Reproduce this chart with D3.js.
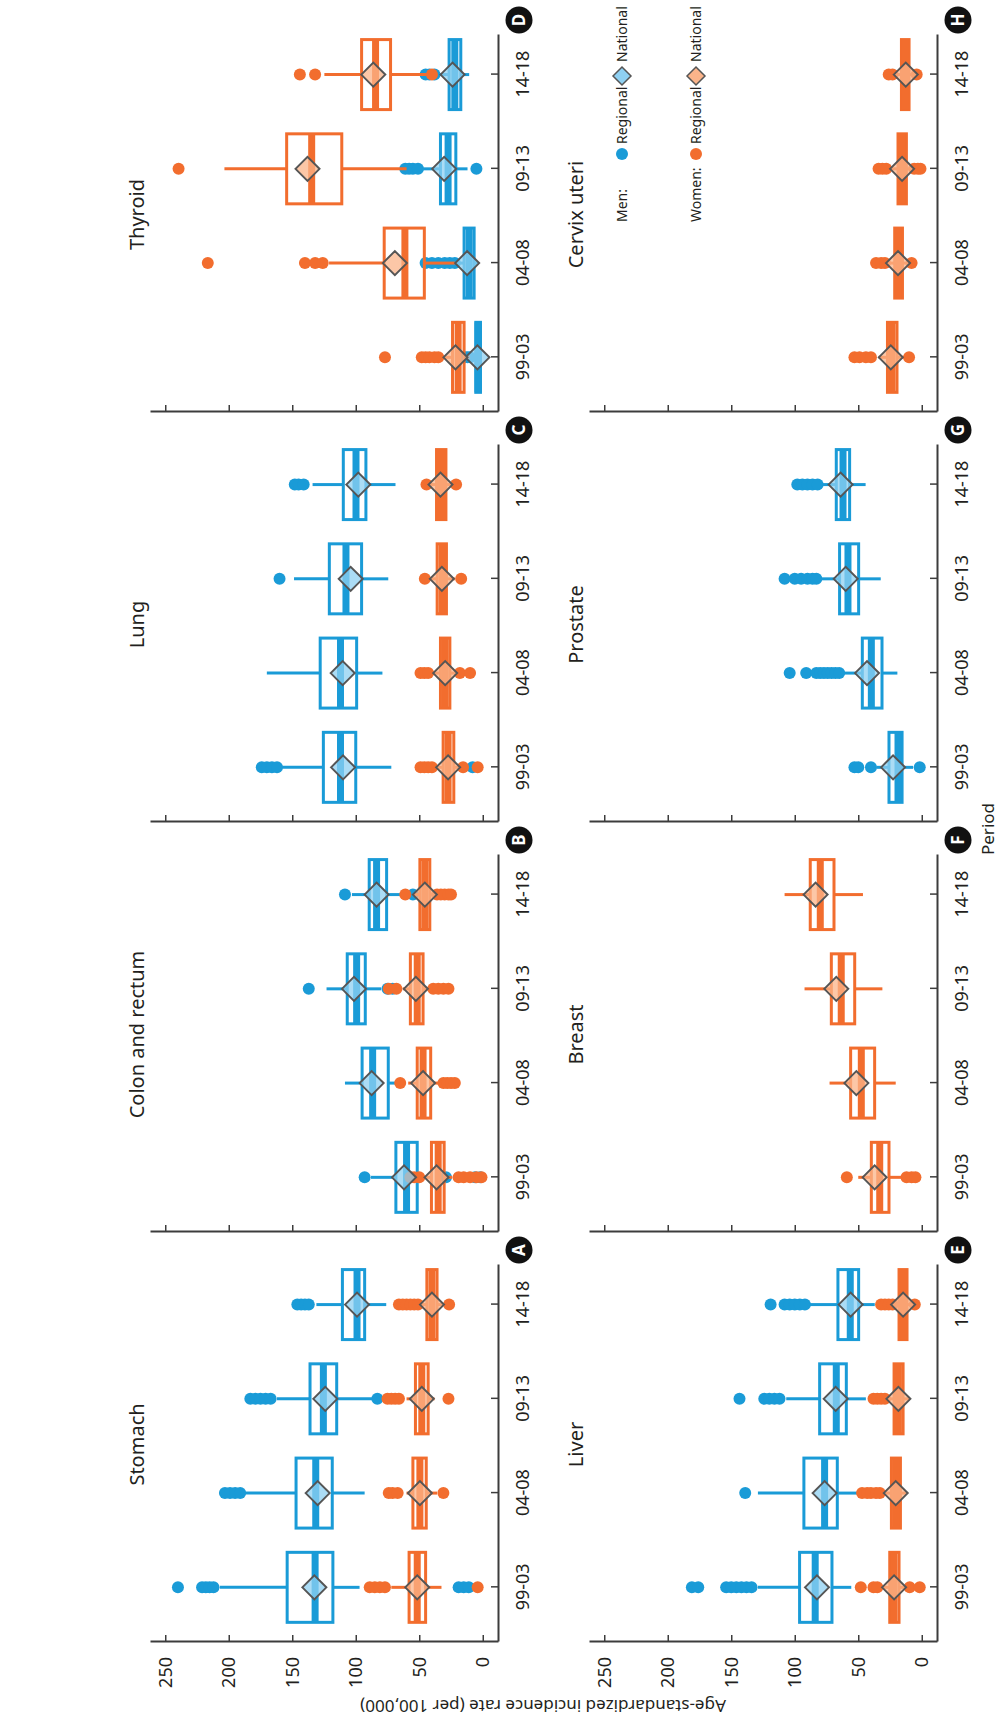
<!DOCTYPE html>
<html>
<head>
<meta charset="utf-8">
<script src="https://cdn.jsdelivr.net/npm/d3@7"></script>
<style>
  body { margin: 0; background: #fff; }
  svg text { font-family: "Noto Sans", "DejaVu Sans", sans-serif; fill: #231f20; }
</style>
</head>
<body>
<svg id="chart" width="1002" height="1722"></svg>
<script>
// ---- data ----
const periods = ["99-03", "04-08", "09-13", "14-18"];
const panelNames = ["Stomach", "Colon and rectum", "Lung", "Thyroid", "Liver", "Breast", "Prostate", "Cervix uteri"];
const panelLetters = ["A", "B", "C", "D", "E", "F", "G", "H"];
const valueTicks = [0, 50, 100, 150, 200, 250];

// box rows: [whisker low, Q1, median, Q3, whisker high], one row per period
const stomachMenBox = [[97, 118, 132, 154, 207], [93, 118.5, 131.5, 147, 187], [87, 115, 125.5, 136, 162], [76, 93, 99, 110.5, 131]];
const stomachMenNat = [132.6, 130, 124, 99];
const stomachMenOut = [[240, 221, 218, 215, 212, 19, 15, 11], [203, 199, 195, 191], [183, 179, 175, 171, 167, 83], [146, 143, 140, 137]];
const stomachWomenBox = [[32.5, 45, 51.6, 58, 72], [36, 44.5, 49.5, 55, 60], [38, 43, 48, 53, 60], [30, 36, 40, 44, 48]];
const stomachWomenNat = [51.6, 49.5, 48, 40];
const stomachWomenOut = [[89, 85, 81, 77, 4], [74, 71, 67, 31], [75, 72, 69, 66, 27], [66, 63, 60, 57, 54, 51, 26.5]];

const colonMenBox = [[47, 51.6, 60, 68.4, 88], [68, 74.4, 86.7, 95, 108.5], [80, 92.5, 99.3, 106.7, 123], [65, 75.7, 83.6, 89.4, 103]];
const colonMenNat = [62, 87.5, 101.4, 83.6];
const colonMenOut = [[93, 29, 6, 2], [], [137, 75, 71], [108.5, 55]];
const colonWomenBox = [[24, 30.4, 35.1, 40.4, 46], [34, 41, 47, 51.6, 58.7], [42, 47, 51.6, 57, 63], [38, 41.7, 45.6, 49.5, 55]];
const colonWomenNat = [36.4, 47, 52.7, 45.6];
const colonWomenOut = [[57, 54, 50, 19, 15, 10, 5, 1], [65, 31, 28, 25, 22], [74, 68, 39, 35, 31, 27], [61, 36, 33, 30, 27, 25]];

const lungMenBox = [[72, 100, 112, 125.5, 158], [79, 99.3, 112, 128, 170], [74.4, 95.4, 107.7, 120.8, 148.6], [68.7, 92, 99.8, 109.8, 134]];
const lungMenNat = [110, 110.3, 104, 98];
const lungMenOut = [[174, 170, 166, 162, 8], [], [160], [148, 145, 141]];
const lungWomenBox = [[18, 22.8, 27.3, 31.2, 36], [20, 25.9, 29.6, 33.3, 40], [22, 28.6, 32, 35.9, 42], [24, 29, 32.5, 36.4, 41]];
const lungWomenNat = [27.3, 29.6, 32.2, 33.3];
const lungWomenOut = [[49, 46, 43, 40, 15.5, 4], [49, 46, 43, 18, 10], [45.6, 17], [44.3, 21]];

const thyroidMenBox = [[1, 1.8, 3.7, 5.5, 8], [3.7, 6.8, 10.7, 14.7, 20], [12, 21.2, 27.3, 33.3, 47], [10.7, 17.3, 22, 26.5, 35]];
const thyroidMenNat = [4.2, 12.3, 30.4, 23.8];
const thyroidMenOut = [[14, 12, 10], [45, 40, 35, 30, 26, 22], [61, 58, 55, 51, 5], [45, 42, 38]];
const thyroidWomenBox = [[10, 14.7, 19.4, 23.8, 30], [22, 46, 61.3, 77.6, 121], [60, 111, 134.7, 154.4, 203.4], [44.3, 72.6, 84.4, 95.4, 124.7]];
const thyroidWomenNat = [21.5, 69.2, 138, 86.2];
const thyroidWomenOut = [[77, 48, 45, 42, 38, 35], [216.5, 140, 132, 126], [239.5], [144, 132, 40]];

const liverMenBox = [[55.5, 70.7, 83.9, 96.2, 129], [47.6, 66.5, 76.5, 92.8, 129], [44, 59.4, 67.3, 80.4, 106.7], [37, 49.7, 56.3, 66, 89.6]];
const liverMenNat = [82.5, 76.5, 67.8, 56];
const liverMenOut = [[181, 176, 154, 150, 146, 142, 138, 134], [139], [143.5, 124, 120, 116, 112], [119, 108, 104, 100, 96, 92]];
const liverWomenBox = [[12, 17.9, 21.8, 25.2, 30], [12, 16.8, 20.5, 23.9, 30], [10, 14.7, 18.4, 21.8, 26], [8, 11.6, 14.7, 17.9, 21]];
const liverWomenNat = [21.8, 20.5, 18.4, 14.7];
const liverWomenOut = [[48, 38, 35, 9.5, 1.6], [47, 43, 40, 36, 33], [38, 35, 32, 29], [32, 29, 26, 23, 5.5]];

const breastWomenBox = [[14, 25.8, 33.1, 39.7, 50], [20.5, 37.1, 47.6, 56, 72.6], [31, 52.8, 63.4, 71.2, 92.3], [46.3, 69.1, 79.9, 87.8, 108]];
const breastWomenNat = [37.1, 51.5, 67.3, 83.6];
const breastWomenOut = [[59, 12, 8, 5], [], [], []];

const prostateMenBox = [[6.8, 15.5, 18.7, 25.8, 35.8], [19.2, 31.3, 39.7, 46.8, 63.4], [32.3, 49.7, 58.1, 64.7, 81.8], [44.2, 56.8, 62, 67.3, 79]];
const prostateMenNat = [22.6, 43.1, 59.9, 63.9];
const prostateMenOut = [[53, 50, 40, 1.6], [104, 91, 83, 80, 77, 74, 71, 68, 65], [108, 100, 95, 90, 86, 83], [98, 94, 90, 86, 82]];

const cervixWomenBox = [[14, 19.5, 23.4, 27, 34], [11, 15.2, 18.4, 21.3, 27], [8, 12.1, 15.5, 18.7, 24], [7, 10, 12.9, 16, 21]];
const cervixWomenNat = [24.4, 18.7, 15.5, 12.6];
const cervixWomenOut = [[53, 49, 44, 40, 10], [36, 32, 29, 8], [34, 31, 28, 6, 3, 1], [26, 23, 4]];

const legendRows = ["Men:", "Women:"];
const legendItems = ["Regional", "National"];

// ---- build panels from the arrays ----
function series(box, nat, out) { return {box: box, nat: nat, out: out}; }
const panels = [
  {men: series(stomachMenBox, stomachMenNat, stomachMenOut), women: series(stomachWomenBox, stomachWomenNat, stomachWomenOut)},
  {men: series(colonMenBox, colonMenNat, colonMenOut), women: series(colonWomenBox, colonWomenNat, colonWomenOut)},
  {men: series(lungMenBox, lungMenNat, lungMenOut), women: series(lungWomenBox, lungWomenNat, lungWomenOut)},
  {men: series(thyroidMenBox, thyroidMenNat, thyroidMenOut), women: series(thyroidWomenBox, thyroidWomenNat, thyroidWomenOut)},
  {men: series(liverMenBox, liverMenNat, liverMenOut), women: series(liverWomenBox, liverWomenNat, liverWomenOut)},
  {men: null, women: series(breastWomenBox, breastWomenNat, breastWomenOut)},
  {men: series(prostateMenBox, prostateMenNat, prostateMenOut), women: null},
  {men: null, women: series(cervixWomenBox, cervixWomenNat, cervixWomenOut)}
];
panels.forEach((p, i) => { p.name = panelNames[i]; p.letter = panelLetters[i]; });

const colors = {
  men: {line: "#1a9bd7", nat: "#8fd0f2"},
  women: {line: "#f26d2e", nat: "#fbb48a"}
};
const axisColor = "#3c3c3c";

// the figure is laid out landscape (1722 x 1002) and turned a quarter to the left
const svg = d3.select("#chart");
const fig = svg.append("g").attr("transform", "translate(0,1722) rotate(-90)");

const panelW = 377, panelStep = 410, boxHalf = 35;

panels.forEach((p, i) => {
  const col = i % 4, row = Math.floor(i / 4);
  const x0 = 80 + panelStep * col;
  const yBottom = row === 0 ? 498 : 937;
  const yTop = yBottom - 348;

  const x = d3.scaleLinear().domain([0.42, 4.42]).range([x0, x0 + panelW]);
  const y = d3.scaleLinear().domain([-12, 262]).range([yBottom, yTop]);

  const g = fig.append("g");

  // value axis
  const yAxis = d3.axisLeft(y).tickValues(valueTicks).tickSizeInner(-7).tickSizeOuter(0).tickPadding(15);
  if (col !== 0) yAxis.tickFormat("");
  const ya = g.append("g").attr("transform", `translate(${x0},0)`).call(yAxis);

  // period axis
  const xAxis = d3.axisBottom(x).tickValues([1, 2, 3, 4]).tickFormat(d => periods[d - 1])
    .tickSizeInner(-7).tickSizeOuter(0).tickPadding(18);
  const xa = g.append("g").attr("transform", `translate(0,${yBottom})`).call(xAxis);

  [ya, xa].forEach(a => {
    a.attr("font-family", null).attr("font-size", null);
    a.select(".domain").attr("stroke", axisColor).attr("stroke-width", 2);
    a.selectAll(".tick line").attr("stroke", axisColor).attr("stroke-width", 1.5);
    a.selectAll(".tick text").style("font-size", "18px").attr("fill", "#231f20");
  });

  // title + panel letter
  g.append("text").attr("x", x0 + panelW / 2 + 9).attr("y", yTop - 6)
    .attr("text-anchor", "middle").style("font-size", "20px").text(p.name);
  const lg = g.append("g").attr("transform", `translate(${x0 + 392},${yBottom + 21})`);
  lg.append("circle").attr("r", 13.5).attr("fill", "#111");
  lg.append("text").attr("text-anchor", "middle").attr("dy", "0.36em")
    .style("font-size", "17px").style("font-weight", "bold").style("fill", "#fff").text(p.letter);

  // boxes: men first, women on top
  const sexes = ["men", "women"].filter(s => p[s]);
  sexes.forEach(s => {
    const d = p[s], c = colors[s].line;
    const bg = g.append("g");
    d.box.forEach((b, k) => {
      const cx = x(k + 1);
      const [lo, q1, med, q3, hi] = b;
      bg.append("line").attr("x1", cx).attr("x2", cx).attr("y1", y(q3)).attr("y2", y(hi))
        .attr("stroke", c).attr("stroke-width", 3);
      bg.append("line").attr("x1", cx).attr("x2", cx).attr("y1", y(q1)).attr("y2", y(lo))
        .attr("stroke", c).attr("stroke-width", 3);
      bg.append("rect").attr("x", cx - boxHalf).attr("width", boxHalf * 2)
        .attr("y", y(q3)).attr("height", y(q1) - y(q3))
        .attr("fill", "none").attr("stroke", c).attr("stroke-width", 3);
      bg.append("line").attr("x1", cx - boxHalf).attr("x2", cx + boxHalf).attr("y1", y(med)).attr("y2", y(med))
        .attr("stroke", c).attr("stroke-width", 7);
      bg.selectAll(null).data(d.out[k]).join("circle")
        .attr("cx", cx).attr("cy", v => y(v)).attr("r", 6).attr("fill", c);
    });
  });

  // national values as diamonds
  sexes.forEach(s => {
    const d = p[s];
    g.append("g").selectAll("path").data(d.nat).join("path")
      .attr("d", (v, k) => {
        const cx = x(k + 1), cy = y(v), h = 12;
        return `M${cx},${cy - h}L${cx + h},${cy}L${cx},${cy + h}L${cx - h},${cy}Z`;
      })
      .attr("fill", colors[s].nat).attr("fill-opacity", 0.75)
      .attr("stroke", "#555").attr("stroke-width", 2);
  });
});

// axis titles
fig.append("text").attr("transform", "translate(22,543) rotate(-90)")
  .attr("text-anchor", "middle").style("font-size", "17px")
  .text("Age-standardized incidence rate (per 100,000)");
fig.append("text").attr("x", 893).attr("y", 994).attr("text-anchor", "middle")
  .style("font-size", "17px").text("Period");

// legend
const leg = fig.append("g").attr("transform", "translate(1500,622)");
legendRows.forEach((r, j) => {
  const s = j === 0 ? "men" : "women";
  const row = leg.append("g").attr("transform", `translate(0,${j * 74})`);
  row.append("text").attr("y", 5).style("font-size", "14px").text(r);
  row.append("circle").attr("cx", 68).attr("r", 6).attr("fill", colors[s].line);
  row.append("text").attr("x", 78).attr("y", 5).style("font-size", "14px").text(legendItems[0]);
  row.append("path").attr("d", "M146,-9L155,0L146,9L137,0Z")
    .attr("fill", colors[s].nat).attr("stroke", "#555").attr("stroke-width", 1.5);
  row.append("text").attr("x", 160).attr("y", 5).style("font-size", "14px").text(legendItems[1]);
});
</script>
</body>
</html>
